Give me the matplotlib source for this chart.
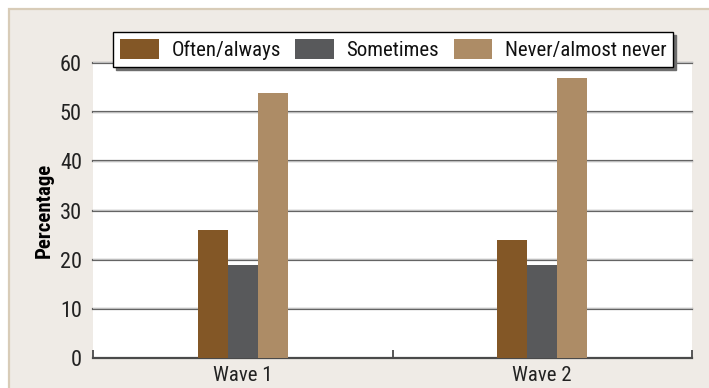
import matplotlib
matplotlib.use("Agg")
import matplotlib.pyplot as plt
from matplotlib.patches import Rectangle
from matplotlib import font_manager
import numpy as np

# Data
waves = ["Wave 1", "Wave 2"]
series_names = ["Often/always", "Sometimes", "Never/almost never"]
often_always = [26, 24]
sometimes = [19, 19]
never = [54, 57]
colors = ["#835726", "#58595b", "#ad8c66"]
yticks = [0, 10, 20, 30, 40, 50, 60]

available = {f.name for f in font_manager.fontManager.ttflist}
fams = [f for f in ["Roboto Condensed", "Archivo Narrow", "Liberation Sans Narrow", "DejaVu Sans"]
        if f in available]
plt.rcParams["font.family"] = fams

W, H = 709, 388
fig = plt.figure(figsize=(W / 100, H / 100), dpi=100, facecolor="white")

# Panel background with tan frame
fig.patches.append(Rectangle((9 / W, -0.05), 1.1, (H - 9) / H + 0.05,
                             transform=fig.transFigure, facecolor="#efebe6",
                             edgecolor="#d8ccb8", linewidth=1.6, zorder=-5))

ax = fig.add_axes([93 / W, (H - 358) / H, (692 - 93) / W, (358 - 63) / H])
ax.set_zorder(2)
ax.set_facecolor("white")

x = np.arange(len(waves))
bw = 0.1
for i, (vals, name, c) in enumerate(zip([often_always, sometimes, never], series_names, colors)):
    ax.bar(x + (i - 1) * bw, vals, width=bw, color=c, label=name, zorder=3)

ax.set_xlim(-0.5, 1.5)
ax.set_ylim(0, 60)
ax.set_yticks(yticks)
ax.set_xticks(x)
ax.set_xticklabels(waves)
ax.set_xticks([-0.5, 0.5, 1.5], minor=True)

for s in ["left", "right", "top"]:
    ax.spines[s].set_visible(False)
ax.spines["bottom"].set_color("#4a4a4a")
ax.spines["bottom"].set_linewidth(1.6)

ax.tick_params(axis="y", length=0, pad=8, labelsize=16, labelcolor="#222222")
ax.tick_params(axis="x", which="major", length=0, pad=6, labelsize=15, labelcolor="#222222")
ax.tick_params(axis="x", which="minor", direction="in", length=6, width=1.3, color="#4a4a4a")

for yv in yticks[1:]:
    ax.axhline(yv, color="#5f5f5f", linewidth=1.6, zorder=1, clip_on=False)
    ax.axhline(yv + 0.12, color="#bdbdbd", linewidth=0.8, zorder=1, clip_on=False)

ax.set_ylabel("Percentage", fontsize=15, fontweight="bold")
ax.yaxis.set_label_coords(-39 / (692 - 93), 0.5)

leg = ax.legend(ncol=3, loc="upper left", bbox_to_anchor=((113 - 93) / (692 - 93), 1 + 31 / (358 - 63)),
                frameon=True, fancybox=False, fontsize=15, handlelength=1.85, handleheight=1.05,
                handletextpad=0.6, columnspacing=0.7, borderpad=0.35, borderaxespad=0,
                shadow={"facecolor": "#6e6e6e", "edgecolor": "#6e6e6e", "alpha": 1})
leg.get_frame().set_edgecolor("black")
leg.get_frame().set_linewidth(1.0)
leg.set_zorder(10)
for t in leg.get_texts():
    t.set_color("#111111")

fig.savefig("out.png", dpi=100, facecolor=fig.get_facecolor())
